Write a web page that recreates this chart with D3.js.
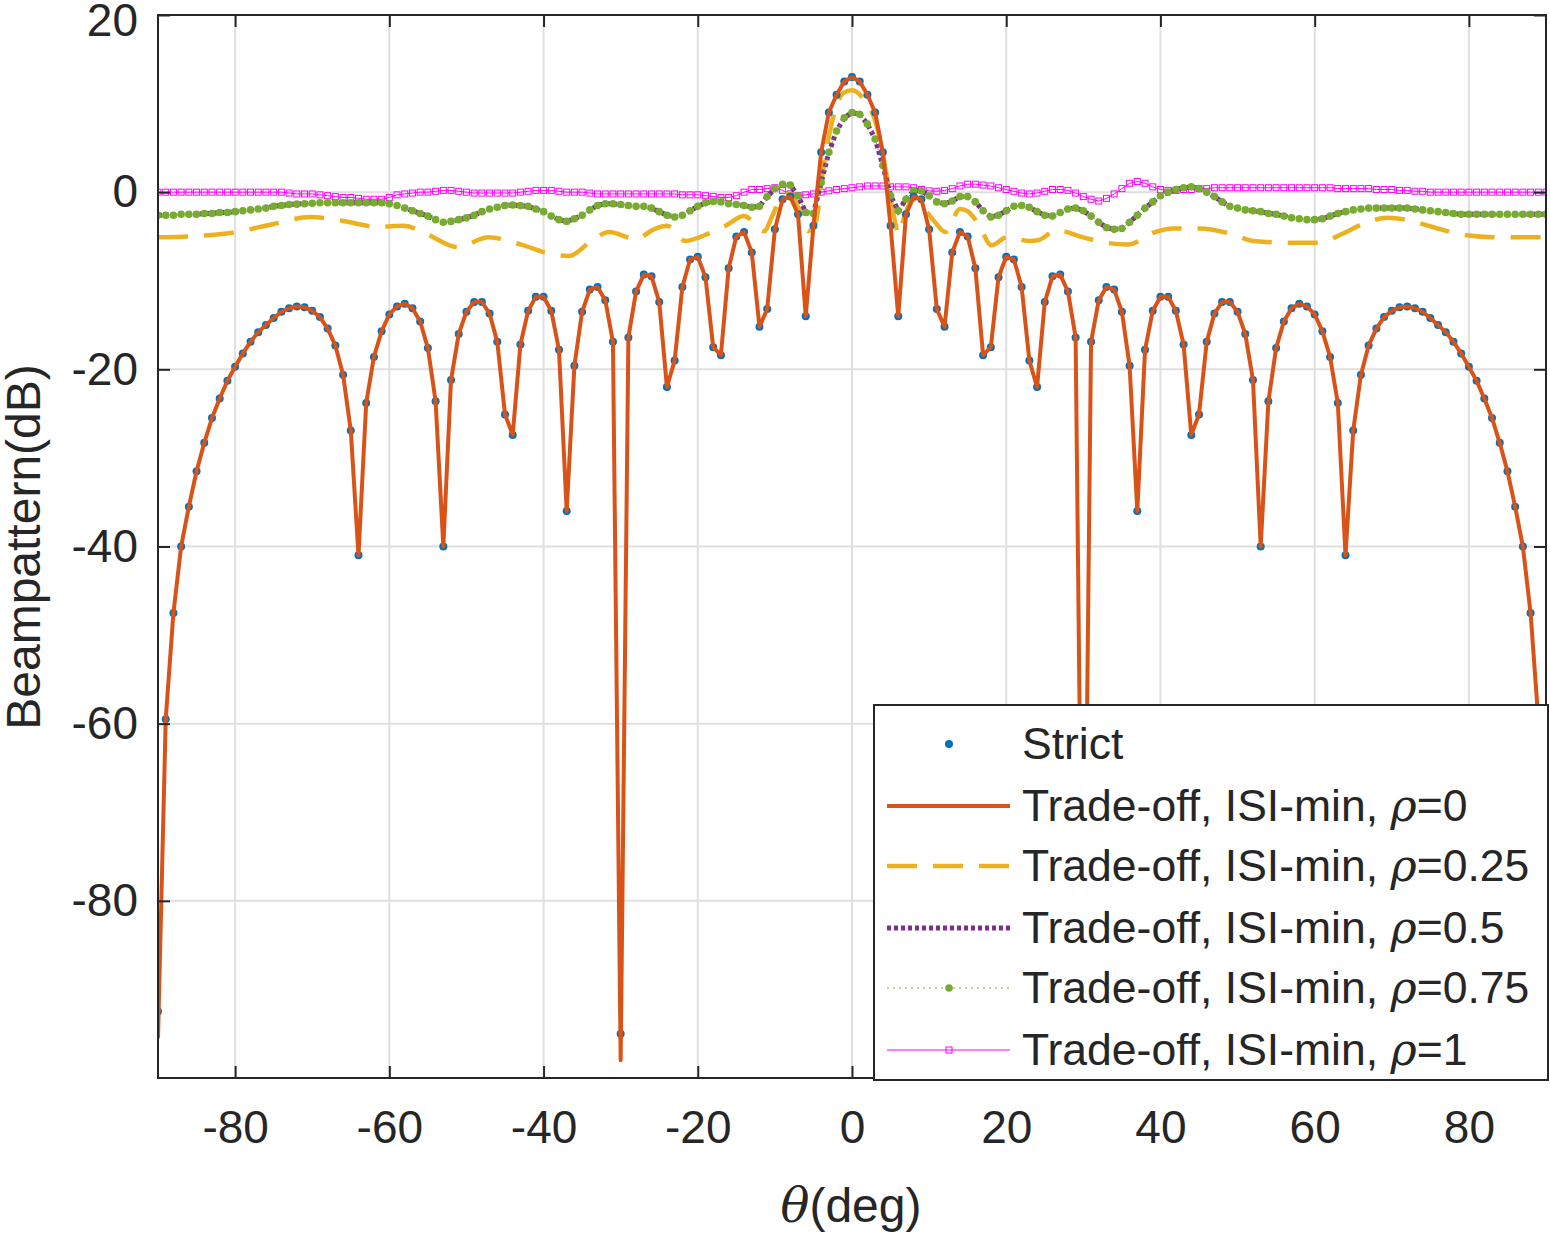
<!DOCTYPE html>
<html><head><meta charset="utf-8">
<script src="https://cdn.jsdelivr.net/npm/d3@7"></script>
<style>body{margin:0;background:#fff}text{font-family:"Liberation Sans",Arial,sans-serif;fill:#262626}</style>
</head><body><svg id="c" width="1550" height="1234"></svg>
<script>
const thetaDeg = d3.range(-90, 91);
const xTicks = [-80,-60,-40,-20,0,20,40,60,80];
const yTicks = [-80,-60,-40,-20,0,20];
const seriesNames = ["Strict","Trade-off, ISI-min, ρ=0","Trade-off, ISI-min, ρ=0.25","Trade-off, ISI-min, ρ=0.5","Trade-off, ISI-min, ρ=0.75","Trade-off, ISI-min, ρ=1"];
const rho0 = [
-92.5,-59.5,-47.5,-40,-35.5,-31.5,-28.3,-25.5,-23.3,-21.3,
-19.7,-18.2,-16.9,-15.8,-15,-14.2,-13.5,-13.1,-12.9,-13,
-13.4,-14.1,-15.4,-17.3,-20.6,-26.9,-41,-23.8,-18.6,-15.7,
-13.8,-12.9,-12.6,-13.1,-14.6,-17.6,-23.6,-40,-21.2,-16,
-13.5,-12.4,-12.4,-13.7,-16.9,-25.1,-27.4,-17.2,-13.4,-11.8,
-11.8,-13.4,-17.8,-36,-19.6,-13.5,-11,-10.7,-12.2,-16.9,
-95,-16.4,-11.2,-9.3,-9.5,-12.4,-22,-19,-10.7,-7.6,
-7.3,-9.6,-17.5,-18.4,-8.6,-5,-4.5,-6.8,-15.2,-13.2,
-4.2,-0.8,-0.5,-2.5,-14,-3.8,4.5,9,11,12.5,
13,12.5,11,9,4.5,-3.8,-14,-2.5,-0.5,-0.8,
-4.2,-13.2,-15.2,-6.8,-4.5,-5,-8.6,-18.4,-17.5,-9.6,
-7.3,-7.6,-10.7,-19,-22,-12.4,-9.5,-9.3,-11.2,-16.4,
-95,-16.9,-12.2,-10.7,-11,-13.5,-19.6,-36,-17.8,-13.4,
-11.8,-11.8,-13.4,-17.2,-27.4,-25.1,-16.9,-13.7,-12.4,-12.4,
-13.5,-16,-21.2,-40,-23.6,-17.6,-14.6,-13.1,-12.6,-12.9,
-13.8,-15.7,-18.6,-23.8,-41,-26.9,-20.6,-17.3,-15.4,-14.1,
-13.4,-13,-12.9,-13.1,-13.5,-14.2,-15,-15.8,-16.9,-18.2,
-19.7,-21.3,-23.3,-25.5,-28.3,-31.5,-35.5,-40,-47.5,-59.5,-95];
const strict = rho0.slice();
const rho075 = [
-2.6,-2.6,-2.6,-2.5,-2.5,-2.5,-2.4,-2.4,-2.3,-2.3,
-2.2,-2.1,-2.0,-1.9,-1.8,-1.6,-1.5,-1.4,-1.35,-1.3,
-1.25,-1.2,-1.2,-1.2,-1.2,-1.2,-1.2,-1.2,-1.2,-1.2,
-1.3,-1.5,-1.8,-2.1,-2.4,-2.7,-3.1,-3.4,-3.3,-3.1,
-2.9,-2.6,-2.2,-1.9,-1.7,-1.5,-1.45,-1.5,-1.6,-1.9,
-2.2,-2.7,-3.1,-3.3,-3.0,-2.6,-2.0,-1.5,-1.3,-1.3,
-1.4,-1.5,-1.6,-1.6,-1.8,-2.2,-2.6,-2.8,-2.6,-2.1,
-1.6,-1.2,-1.05,-1.1,-1.3,-1.4,-1.5,-1.7,-1.6,-0.5,
0.4,0.9,0.8,-0.4,-2.3,-2.4,1.1,4.5,6.9,8.4,
9.0,8.8,7.7,6.0,3.0,-0.4,-2.1,-0.8,0.15,0.15,
-0.4,-1.1,-1.3,-1.0,-0.5,-0.5,-1.1,-2.1,-2.8,-2.6,
-2.1,-1.6,-1.5,-1.7,-2.2,-2.6,-2.7,-2.3,-1.9,-1.8,
-2.1,-2.7,-3.4,-4.0,-4.2,-4.1,-3.4,-2.6,-1.8,-1.1,
-0.4,0,0.3,0.5,0.6,0.4,0,-0.5,-1.1,-1.6,
-1.8,-2.0,-2.1,-2.2,-2.4,-2.5,-2.7,-2.9,-3.0,-3.1,
-3.1,-3.0,-2.7,-2.4,-2.2,-2.0,-1.9,-1.8,-1.8,-1.8,
-1.8,-1.8,-1.8,-1.9,-2.0,-2.1,-2.2,-2.3,-2.4,-2.5,
-2.5,-2.5,-2.5,-2.5,-2.5,-2.5,-2.5,-2.5,-2.5,-2.5,-2.5];
const rho05 = rho075.slice();
const rho1 = [
0,0,0,0,0,0,0,0,0,0,
0,0,0,0,0,0,0,-0.1,-0.2,-0.2,
-0.2,-0.3,-0.4,-0.5,-0.6,-0.6,-0.7,-0.8,-0.8,-0.8,
-0.6,-0.3,-0.2,-0.1,0,0,0.1,0.2,0.2,0.1,
0,-0.1,-0.1,-0.1,-0.1,-0.1,-0.1,0,0.1,0.2,
0.2,0.2,0.1,0,0,0,-0.1,-0.2,-0.2,-0.2,
-0.2,-0.2,-0.2,-0.2,-0.2,-0.2,-0.2,-0.2,-0.3,-0.3,
-0.3,-0.4,-0.5,-0.6,-0.6,-0.4,0,0.3,0.3,0.4,
0.5,0.2,-0.2,-0.4,-0.3,-0.2,0,0.15,0.3,0.4,
0.5,0.6,0.7,0.7,0.7,0.6,0.6,0.6,0.5,0.3,
0.15,0.1,0.2,0.4,0.7,0.9,0.9,0.8,0.7,0.5,
0.3,0.1,-0.1,-0.2,-0.1,0.1,0.3,0.3,0.2,-0.1,
-0.5,-0.8,-1.0,-0.7,-0.2,0.4,1.0,1.2,1.0,0.6,
0.3,0.2,0.2,0.3,0.3,0.4,0.4,0.5,0.5,0.5,
0.5,0.5,0.5,0.5,0.5,0.5,0.5,0.5,0.5,0.5,
0.5,0.5,0.5,0.4,0.4,0.4,0.4,0.4,0.3,0.3,
0.3,0.2,0.2,0.1,0.1,0,0,0,0,0,
0,0,0,0,0,0,0,0,0,0,0];
const rho025Theta = [-90,-81.4,-75,-70.3,-66.3,-61.6,-58.1,-55.2,-51.2,-47.1,-43,-39,-36.7,-33.8,-31.5,-28,-25.7,-24,-21.6,-18.7,-16.4,-14,-11.4,-10.3,-9,-8,-6.8,-5.7,-4.7,-3.8,-2.7,-1.1,0,1.5,3.2,4.5,5.4,6.1,6.7,8,10.6,12.1,14,14.9,16.4,18.1,20.1,23,24.2,26.5,30,32.9,35.8,39.3,41.6,45.1,49.1,52,56.6,60.7,63.6,66.5,69.4,71.7,75.2,79.2,83.9,90];
const rho025 = [-5.1,-4.7,-3.6,-2.8,-3.2,-3.9,-3.8,-4.7,-6.2,-5.1,-5.9,-7,-7.2,-5.5,-4.5,-5.3,-4.2,-3.8,-5.5,-4.7,-3.8,-2.7,-4.4,-2.6,-0.4,-0.2,-2.1,-4.4,-3.4,2.2,7.5,11.2,11.5,10.5,7.5,1.9,-2.6,-4.7,-3,-0.8,-3.2,-4.5,-1.9,-2.1,-3.6,-6,-5.1,-5.5,-5.4,-4.3,-5.1,-5.7,-5.9,-4.5,-4.1,-4.1,-4.7,-5.5,-5.7,-5.7,-4.7,-3.5,-2.9,-3.1,-3.9,-4.8,-5.1,-5.1];

const C = {blue:"#0072BD",orange:"#D95319",yellow:"#EDB120",purple:"#7E2F8E",green:"#77AC30",mag:"#FF00FF"};
const svg = d3.select("#c");
const L=158,R=1546,T=15,B=1078;
const x = d3.scaleLinear().domain([-90,90]).range([L,R]);
const y = d3.scaleLinear().domain([-100,20]).range([B,T]);
const defs = svg.append("defs");
defs.append("clipPath").attr("id","clip").append("rect").attr("x",L).attr("y",T).attr("width",R-L).attr("height",B-T);

const g = svg.append("g");
g.selectAll(".gx").data(xTicks).join("line").attr("x1",d=>x(d)).attr("x2",d=>x(d)).attr("y1",T).attr("y2",B).attr("stroke","#dfdfdf").attr("stroke-width",2);
g.selectAll(".gy").data(yTicks.concat([-100])).join("line").attr("y1",d=>y(d)).attr("y2",d=>y(d)).attr("x1",L).attr("x2",R).attr("stroke","#dfdfdf").attr("stroke-width",2);

const plot = svg.append("g").attr("clip-path","url(#clip)");
const pts = arr => thetaDeg.map((t,i)=>[t,arr[i]]);
const line = d3.line().x(d=>x(d[0])).y(d=>y(d[1]));

plot.append("path").attr("d",line(pts(rho1))).attr("fill","none").attr("stroke",C.mag).attr("stroke-width",1);
plot.selectAll(".sq").data(pts(rho1)).join("rect").attr("x",d=>x(d[0])-3).attr("y",d=>y(d[1])-3).attr("width",6).attr("height",6).attr("fill","none").attr("stroke",C.mag).attr("stroke-width",1);
const yl = d3.line().x((d,i)=>x(rho025Theta[i])).y(d=>y(d)).curve(d3.curveMonotoneX);
plot.append("path").attr("d",yl(rho025)).attr("fill","none").attr("stroke",C.yellow).attr("stroke-width",4.5).attr("stroke-dasharray","30,16");
plot.append("path").attr("d",line(pts(rho05))).attr("fill","none").attr("stroke",C.purple).attr("stroke-width",5).attr("stroke-dasharray","4,3");
plot.append("path").attr("d",line(pts(rho075))).attr("fill","none").attr("stroke",C.green).attr("stroke-width",1).attr("stroke-dasharray","2,4");
plot.selectAll(".gd").data(pts(rho075)).join("circle").attr("cx",d=>x(d[0])).attr("cy",d=>y(d[1])).attr("r",3.8).attr("fill",C.green);
plot.selectAll(".sd").data(pts(strict)).join("circle").attr("cx",d=>x(d[0])).attr("cy",d=>y(d[1])).attr("r",4).attr("fill",C.blue);
plot.append("path").attr("d",line(pts(rho0).map(d=>[d[0], d[1]<-92 ? d[1]-3 : d[1]]))).attr("fill","none").attr("stroke",C.orange).attr("stroke-width",4).attr("stroke-linejoin","round");

svg.append("rect").attr("x",L).attr("y",T).attr("width",R-L).attr("height",B-T).attr("fill","none").attr("stroke","#262626").attr("stroke-width",2);
const ax = svg.append("g").attr("transform",`translate(0,${B})`).call(d3.axisBottom(x).tickValues(xTicks).tickSize(-12).tickPadding(26).tickFormat(d=>d<0?"-"+Math.abs(d):d));
ax.select(".domain").remove();
ax.selectAll("line").attr("stroke","#262626").attr("stroke-width",2);
ax.selectAll("text").attr("font-size",46).attr("fill","#262626").attr("dy","0.85em");
const axT = svg.append("g").attr("transform",`translate(0,${T})`).call(d3.axisTop(x).tickValues(xTicks).tickSize(-12).tickFormat(""));
axT.select(".domain").remove(); axT.selectAll("line").attr("stroke","#262626").attr("stroke-width",2);
const ay = svg.append("g").attr("transform",`translate(${L},0)`).call(d3.axisLeft(y).tickValues(yTicks).tickSize(-12).tickPadding(20).tickFormat(d=>d<0?"-"+Math.abs(d):d));
ay.select(".domain").remove();
ay.selectAll("line").attr("stroke","#262626").attr("stroke-width",2);
ay.selectAll("text").attr("font-size",46).attr("fill","#262626").attr("dy",d=>d===20?"0.45em":"0.32em");
const ayR = svg.append("g").attr("transform",`translate(${R},0)`).call(d3.axisRight(y).tickValues(yTicks).tickSize(-12).tickFormat(""));
ayR.select(".domain").remove(); ayR.selectAll("line").attr("stroke","#262626").attr("stroke-width",2);

const xt = svg.append("text").attr("x",851).attr("y",1222).attr("text-anchor","middle").attr("font-size",48);
xt.append("tspan").attr("font-style","italic").attr("font-family","'DejaVu Serif',serif").text("θ");
xt.append("tspan").text("(deg)");
svg.append("text").attr("transform","translate(40,547) rotate(-90)").attr("text-anchor","middle").attr("font-size",48).text("Beampattern(dB)");

const lg = svg.append("g");
lg.append("rect").attr("x",874).attr("y",705).attr("width",674).attr("height",375).attr("fill","#fff").attr("stroke","#262626").attr("stroke-width",2);
const rowsY = [744,806,866,928,988,1050];
const x0=887,x1=1010;
rowsY.forEach((ry,i)=>{
  const t = lg.append("text").attr("x",1022).attr("y",ry+15).attr("font-size",44.5);
  const nm = seriesNames[i];
  const k = nm.indexOf("ρ");
  if(k<0){ t.text(nm); }
  else { t.append("tspan").text(nm.slice(0,k)); t.append("tspan").attr("font-style","italic").attr("font-family","'DejaVu Serif',serif").text("ρ"); t.append("tspan").text(nm.slice(k+1)); }
});
lg.append("circle").attr("cx",949).attr("cy",rowsY[0]).attr("r",4).attr("fill",C.blue);
lg.append("line").attr("x1",x0).attr("x2",x1).attr("y1",rowsY[1]).attr("y2",rowsY[1]).attr("stroke",C.orange).attr("stroke-width",4);
lg.append("line").attr("x1",x0).attr("x2",x1).attr("y1",rowsY[2]).attr("y2",rowsY[2]).attr("stroke",C.yellow).attr("stroke-width",4.5).attr("stroke-dasharray","30,16");
lg.append("line").attr("x1",x0).attr("x2",x1).attr("y1",rowsY[3]).attr("y2",rowsY[3]).attr("stroke",C.purple).attr("stroke-width",5).attr("stroke-dasharray","4,3");
lg.append("line").attr("x1",x0).attr("x2",x1).attr("y1",rowsY[4]).attr("y2",rowsY[4]).attr("stroke",C.green).attr("stroke-width",1).attr("stroke-dasharray","2,4");
lg.append("circle").attr("cx",949).attr("cy",rowsY[4]).attr("r",3.8).attr("fill",C.green);
lg.append("line").attr("x1",x0).attr("x2",x1).attr("y1",rowsY[5]).attr("y2",rowsY[5]).attr("stroke",C.mag).attr("stroke-width",1);
lg.append("rect").attr("x",946).attr("y",rowsY[5]-3).attr("width",6).attr("height",6).attr("fill","none").attr("stroke",C.mag);
</script></body></html>
